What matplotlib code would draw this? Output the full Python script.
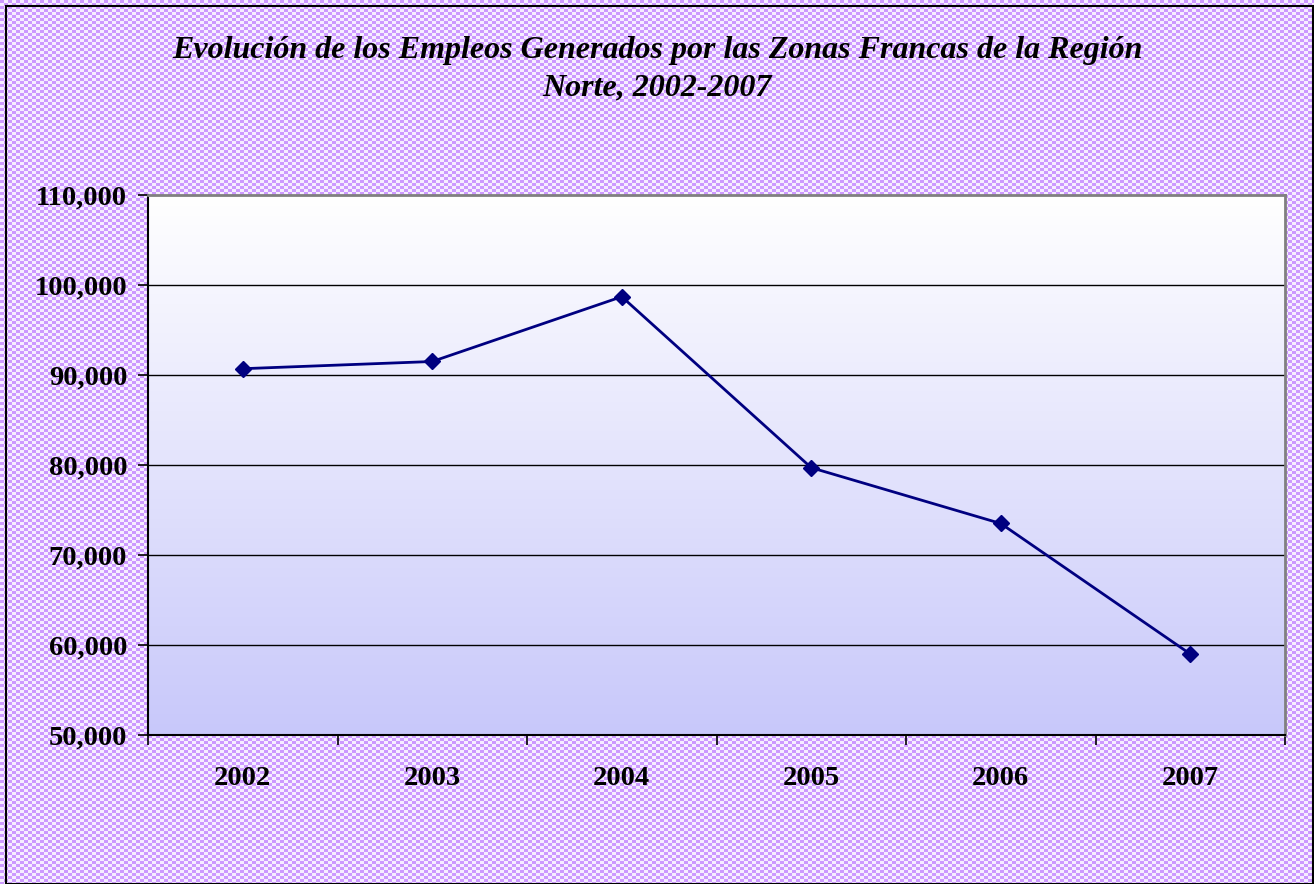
import numpy as np
import matplotlib
matplotlib.use("Agg")
import matplotlib.pyplot as plt
from matplotlib.patches import Rectangle

years = ["2002", "2003", "2004", "2005", "2006", "2007"]
empleos = [90700, 91500, 98700, 79700, 73500, 59000]
yticks = [50000, 60000, 70000, 80000, 90000, 100000, 110000]
title = "Evolución de los Empleos Generados por las Zonas Francas de la Región\nNorte, 2002-2007"

W, H = 1314, 884
fig = plt.figure(figsize=(W / 100, H / 100), dpi=100)

# checkered background
yy, xx = np.mgrid[0:H, 0:W]
chk = ((xx // 4) + (yy // 3)) % 2
bg = np.zeros((H, W, 3))
c1 = np.array([0xcc, 0x99, 0xff]) / 255
c2 = np.array([0xf6, 0xee, 0xff]) / 255
bg[chk == 0] = c1
bg[chk == 1] = c2
fig.figimage(bg, 0, 0, zorder=-10)

# outer border
fig.patches.append(Rectangle((6 / W, 0), (W - 7) / W, (H - 6) / H, transform=fig.transFigure,
                             fill=False, edgecolor="black", linewidth=1.5, zorder=5))

left, right, top, bottom = 148, 1285, 195, 735
ax = fig.add_axes([left / W, 1 - bottom / H, (right - left) / W, (bottom - top) / H])
ax.set_zorder(2)
ax.set_facecolor("white")

n = len(years)
x = np.arange(n)

# gradient fill
grad = np.linspace(0, 1, 256).reshape(-1, 1)
ctop = np.array([1.0, 1.0, 1.0])
cbot = np.array([0xc8, 0xc8, 0xfa]) / 255
img = ctop + (cbot - ctop) * grad[..., None]
img = np.repeat(img, 2, axis=1)
ax.imshow(img, extent=[-0.5, n - 0.5, yticks[0], yticks[-1]], origin="upper",
          aspect="auto", zorder=0)
ax.set_xlim(-0.5, n - 0.5)
ax.set_ylim(yticks[0], yticks[-1])

for v in yticks[1:-1]:
    ax.axhline(v, color="black", linewidth=1.0, zorder=1)

ax.plot(x, empleos, color="#000080", linewidth=2.0, marker="D", markersize=8,
        markerfacecolor="#000080", markeredgecolor="#000080", zorder=3)

ax.spines["left"].set_color("black")
ax.spines["left"].set_linewidth(1.5)
ax.spines["bottom"].set_color("black")
ax.spines["bottom"].set_linewidth(1.5)
ax.spines["top"].set_color("#808080")
ax.spines["top"].set_linewidth(2)
ax.spines["right"].set_color("#808080")
ax.spines["right"].set_linewidth(2)

ax.set_yticks(yticks)
ax.set_yticklabels([f"{v:,}" for v in yticks], fontfamily="Liberation Serif",
                   fontweight="bold", fontsize=20.5)
ax.set_xticks(x)
ax.set_xticklabels(years, fontfamily="Liberation Serif", fontweight="bold", fontsize=20.5)
ax.tick_params(axis="x", which="major", length=0, pad=22)
ax.tick_params(axis="y", length=7, direction="out", width=1.2, pad=8)
ax.set_xticks(np.arange(n + 1) - 0.5, minor=True)
ax.tick_params(axis="x", which="minor", length=7, direction="out", width=1.2)

fig.text(0.5, 1 - 69 / H, title, ha="center", va="center", fontfamily="Liberation Serif",
         fontweight="bold", fontstyle="italic", fontsize=23, linespacing=1.38)

fig.savefig("out.png", dpi=100)
